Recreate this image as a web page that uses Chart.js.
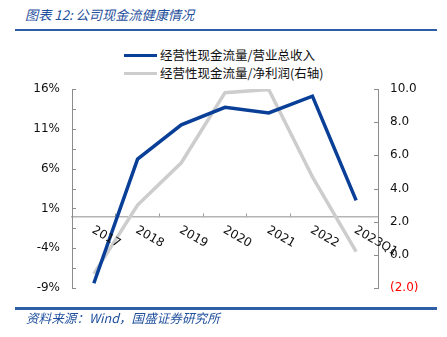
<!DOCTYPE html>
<html>
<head>
<meta charset="utf-8">
<script src="https://cdn.jsdelivr.net/npm/chart.js@4.4.0/dist/chart.umd.min.js"></script>
<style>
  html, body { margin: 0; padding: 0; background: #ffffff; }
  #wrap { position: relative; width: 447px; height: 337px; overflow: hidden; background: #fff; }
  #c { position: absolute; left: 0; top: 0; }
  .title { position: absolute; left: 25px; top: 7px; font: italic 13.2px/16px "Noto Sans CJK SC", sans-serif; color: #1f4f9c; white-space: nowrap; }
  .rule { position: absolute; left: 15px; width: 422px; background: #2e5fa6; }
  .source { position: absolute; left: 26px; top: 310px; font: italic 12.6px/16px "Noto Sans CJK SC", sans-serif; color: #1f4f9c; white-space: nowrap; }
  .lg { position: absolute; left: 124px; font: 12.5px/16px "Noto Sans CJK SC", sans-serif; color: #111; white-space: nowrap; }
  .lg i { display: inline-block; width: 33px; height: 3.5px; vertical-align: middle; margin-right: 3px; position: relative; top: -1px; }
</style>
</head>
<body>
<div id="wrap">
  <div class="title">图表 12:&nbsp;公司现金流健康情况</div>
  <div class="rule" style="top:29px;height:2px;"></div>
  <div class="lg" style="top:47px;"><i style="background:#0a3f98"></i>经营性现金流量/营业总收入</div>
  <div class="lg" style="top:65px;"><i style="background:#cdcdcd"></i>经营性现金流量/净利润(右轴)</div>
  <canvas id="c" width="447" height="337"></canvas>
  <div class="rule" style="top:307px;height:2.5px;"></div>
  <div class="source">资料来源：Wind，国盛证券研究所</div>
</div>
<script>
const categories = ['2017', '2018', '2019', '2020', '2021', '2022', '2023Q1'];
const cfoToRevenue = [-8.4, 7.2, 11.5, 13.7, 13.0, 15.1, 2.0];      // %, left axis
const cfoToNetProfit = [-1.15, 3.0, 5.55, 9.78, 9.97, 4.7, 0.2];   // ratio, right axis
const seriesNames = ['经营性现金流量/营业总收入', '经营性现金流量/净利润(右轴)'];

const axisFont = { family: 'DejaVu Sans', size: 12 };

const extras = {
  id: 'extras',
  afterDraw(chart) {
    const ctx = chart.ctx;
    const area = chart.chartArea;
    const yL = chart.scales.yL, yR = chart.scales.yR, x = chart.scales.x;
    ctx.save();
    // inward tick marks on value axes
    ctx.strokeStyle = '#8c8c8c';
    ctx.lineWidth = 1;
    ctx.beginPath();
    yL.ticks.forEach(t => {
      const py = Math.round(yL.getPixelForValue(t.value)) + 0.5;
      ctx.moveTo(area.left, py); ctx.lineTo(area.left + 4, py);
    });
    yR.ticks.forEach(t => {
      const py = Math.round(yR.getPixelForValue(t.value)) + 0.5;
      ctx.moveTo(area.right, py); ctx.lineTo(area.right - 4, py);
    });
    ctx.stroke();
    // rotated category labels below the zero line
    const base = yL.getPixelForValue(0);
    ctx.fillStyle = '#111';
    ctx.font = '12px "DejaVu Sans"';
    ctx.textAlign = 'left';
    ctx.textBaseline = 'middle';
    categories.forEach((lab, i) => {
      const px = x.getPixelForValue(i);
      ctx.save();
      ctx.translate(px - 1, base + 13);
      ctx.rotate(Math.PI / 6);
      ctx.fillText(lab, 0, 0);
      ctx.restore();
    });
    ctx.restore();
  }
};

new Chart(document.getElementById('c'), {
  type: 'line',
  data: {
    labels: categories,
    datasets: [
      { label: seriesNames[0], data: cfoToRevenue, yAxisID: 'yL', borderColor: '#0a3f98', borderWidth: 3.5, pointRadius: 0, tension: 0, fill: false },
      { label: seriesNames[1], data: cfoToNetProfit, yAxisID: 'yR', borderColor: '#cdcdcd', borderWidth: 3.5, pointRadius: 0, tension: 0, fill: false }
    ]
  },
  options: {
    responsive: false,
    animation: false,
    layout: { padding: { top: 89, bottom: 49, left: 0, right: 0 } },
    plugins: { legend: { display: false }, tooltip: { enabled: false } },
    scales: {
      x: {
        position: { yL: 0 },
        offset: true,
        grid: { display: true, offset: true, drawOnChartArea: false, drawTicks: true, tickLength: -4, color: '#999' },
        border: { display: true, color: '#b4b4b4', width: 1.5 },
        ticks: { display: false }
      },
      yL: {
        position: 'left',
        min: -9, max: 16,
        afterFit(s) { s.width = 72; },
        grid: { drawOnChartArea: false, drawTicks: false },
        border: { display: true, color: '#8c8c8c', width: 1 },
        ticks: {
          stepSize: 2.5, padding: 12, color: '#111', font: axisFont, maxTicksLimit: 20,
          callback: (v, i) => (i % 2 === 0 ? Math.round(v) + '%' : '')
        }
      },
      yR: {
        position: 'right',
        min: -2, max: 10,
        afterFit(s) { s.width = 69; },
        grid: { drawOnChartArea: false, drawTicks: false },
        border: { display: true, color: '#8c8c8c', width: 1 },
        ticks: {
          stepSize: 1, padding: 12, font: axisFont, maxTicksLimit: 20,
          color: c => (c.tick && c.tick.value < 0 ? '#ff0000' : '#111'),
          callback: v => {
            if (Math.round(v) % 2 !== 0) return '';
            return v < 0 ? '(' + Math.abs(v).toFixed(1) + ')' : v.toFixed(1);
          }
        }
      }
    }
  },
  plugins: [extras]
});
</script>
</body>
</html>
